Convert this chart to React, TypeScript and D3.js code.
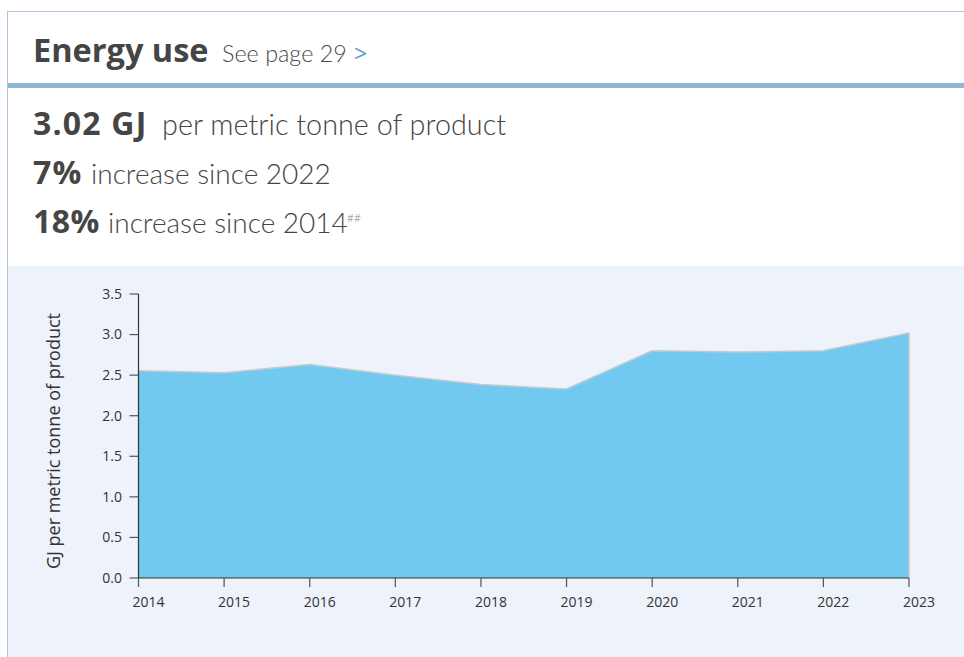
import React from "react";
import * as d3 from "d3";

const years = [2014, 2015, 2016, 2017, 2018, 2019, 2020, 2021, 2022, 2023];
const energyValues = [2.555, 2.53, 2.63, 2.5, 2.385, 2.33, 2.8, 2.785, 2.8, 3.02];
const yTicks = [0, 0.5, 1.0, 1.5, 2.0, 2.5, 3.0, 3.5];

const W = 964;
const H = 657;

export default function App() {
  const x = d3.scaleLinear().domain([2014, 2023]).range([138.5, 909]);
  const y = d3.scaleLinear().domain([0, 3.5]).range([578, 294]);
  const data = years.map((yr, i) => ({ yr, v: energyValues[i] }));
  const area = d3
    .area<{ yr: number; v: number }>()
    .x((d) => x(d.yr))
    .y0(y(0))
    .y1((d) => y(d.v));
  const line = d3
    .line<{ yr: number; v: number }>()
    .x((d) => x(d.yr))
    .y((d) => y(d.v));
  const last = data[data.length - 1];
  const bold = "'Open Sans', sans-serif";
  const light = "Lato, 'Open Sans', sans-serif";
  const textColor = "#454545";

  return (
    <svg
      width={W}
      height={H}
      style={{ position: "absolute", left: 0, top: 0, display: "block" }}
      fontFamily={bold}
    >
      <rect x={0} y={0} width={W} height={H} fill="#ffffff" />
      {/* card border */}
      <line x1={7.5} y1={11} x2={7.5} y2={H} stroke="#a9c5df" strokeWidth={1} />
      <line x1={7} y1={11.5} x2={W} y2={11.5} stroke="#a9c5df" strokeWidth={1} />
      {/* header */}
      <text x={33} y={62} fill={textColor} fontSize={32.5} fontWeight={700}>
        Energy use
      </text>
      <text x={222} y={62} fill="#4a4a4a" fontSize={23.4} fontWeight={300} fontFamily={light}>
        See page 29
      </text>
      <text x={354} y={62} fill="#5a9bd6" fontSize={23} fontWeight={400} fontFamily={bold}>
        &gt;
      </text>
      <rect x={8} y={83} width={W - 8} height={5} fill="#8fb6d3" />
      {/* stats */}
      <text x={33} y={135} fill={textColor} fontSize={32} fontWeight={700} letterSpacing={1.2}>
        3.02 GJ
      </text>
      <text x={162} y={135} fill={textColor} fontSize={28.8} fontWeight={300} fontFamily={light}>
        per metric tonne of product
      </text>
      <text x={33} y={184} fill={textColor} fontSize={32} fontWeight={700} letterSpacing={1.2}>
        7%
      </text>
      <text x={91} y={184} fill={textColor} fontSize={28} fontWeight={300} fontFamily={light}>
        increase since 2022
      </text>
      <text x={33} y={233} fill={textColor} fontSize={32} fontWeight={700} letterSpacing={0.5}>
        18%
      </text>
      <text x={108} y={233} fill={textColor} fontSize={28} fontWeight={300} fontFamily={light}>
        increase since 2014
      </text>
      <text x={347} y={222} fill="#888" fontSize={12} fontWeight={300} fontFamily={light}>
        ##
      </text>
      {/* chart background */}
      <rect x={8} y={266} width={W - 8} height={H - 266} fill="#eef2fb" />
      {/* area */}
      <path d={area(data) || ""} fill="#72c9ef" />
      <path d={line(data) || ""} fill="none" stroke="#c2c9d0" strokeWidth={1.5} />
      <line x1={x(last.yr)} x2={x(last.yr)} y1={y(last.v)} y2={y(0)} stroke="#c2c9d0" strokeWidth={1.5} />
      {/* y axis */}
      <line x1={x(2014)} x2={x(2014)} y1={y(3.5)} y2={y(0)} stroke="#333" strokeWidth={1.2} />
      {yTicks.map((t) => (
        <g key={t}>
          <line x1={x(2014) - 9} x2={x(2014)} y1={y(t)} y2={y(t)} stroke="#555" strokeWidth={1.2} />
          <text x={122} y={y(t)} dy="0.35em" textAnchor="end" fontSize={14} fill="#333">
            {t.toFixed(1)}
          </text>
        </g>
      ))}
      {/* x axis */}
      <line x1={x(2014)} x2={909} y1={y(0)} y2={y(0)} stroke="#333" strokeWidth={1.2} />
      {years.map((yr) => (
        <g key={yr}>
          <line x1={x(yr)} x2={x(yr)} y1={y(0)} y2={y(0) + 9} stroke="#555" strokeWidth={1.2} />
          <text x={x(yr) + 10} y={607} textAnchor="middle" fontSize={14} fill="#333">
            {yr}
          </text>
        </g>
      ))}
      <text
        transform={`translate(60,${441}) rotate(-90)`}
        textAnchor="middle"
        fontSize={18}
        fill="#333"
      >
        GJ per metric tonne of product
      </text>
    </svg>
  );
}
